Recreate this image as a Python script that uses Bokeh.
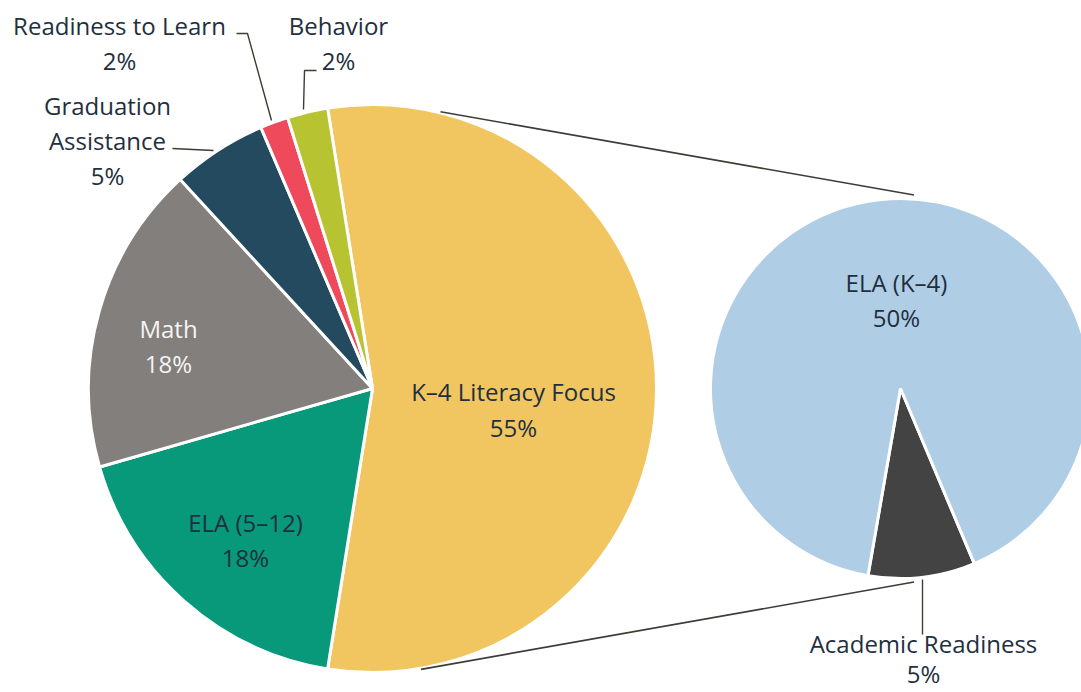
import math
from bokeh.plotting import figure
from bokeh.models import Range1d, ColumnDataSource
from bokeh.core.properties import value
from bokeh.embed import file_html
from bokeh.resources import INLINE

# ---------------- data ----------------
main_labels = ["K–4 Literacy Focus", "ELA (5–12)", "Math", "Graduation Assistance",
               "Readiness to Learn", "Behavior"]
main_values = [55.0, 18.0, 17.6, 5.4, 1.6, 2.3]
main_pct_text = ["55%", "18%", "18%", "5%", "2%", "2%"]
main_colors = ["#F1C661", "#08997B", "#827F7C", "#234A5E", "#EF4A5B", "#B8C332"]

sub_labels = ["Academic Readiness", "ELA (K–4)"]
sub_values = [5.0, 50.0]
sub_pct_text = ["5%", "50%"]
sub_colors = ["#434343", "#B0CDE6"]

# ---------------- layout ----------------
W, H = 1081, 692
MAIN_C = (372, 388)      # screen coords
MAIN_R = 284
SUB_C = (900, 388)
SUB_R = 190

TEXT = "#1F2F3E"
FONT = "Open Sans"
FS = "24px"


def sy(y):
    return H - y


def pt(center, r, theta_deg):
    # theta: clockwise from 12 o'clock, screen coords
    t = math.radians(theta_deg)
    return center[0] + r * math.sin(t), center[1] - r * math.cos(t)


p = figure(width=W, height=H, x_range=Range1d(0, W), y_range=Range1d(0, H),
           output_backend="svg", toolbar_location=None,
           x_axis_location=None, y_axis_location=None, min_border=0,
           background_fill_color="white", border_fill_color="white")
p.outline_line_color = None
p.xgrid.visible = False
p.ygrid.visible = False

# ---------------- main pie ----------------
tot = sum(main_values)
k4_span = main_values[0] / tot * 360
theta = 90 - k4_span / 2
starts, ends = [], []
for v in main_values:
    span = v / tot * 360
    starts.append(math.radians(90 - theta))
    ends.append(math.radians(90 - (theta + span)))
    theta += span
src = ColumnDataSource(dict(x=[MAIN_C[0]] * len(main_values), y=[sy(MAIN_C[1])] * len(main_values),
                            s=starts, e=ends, c=main_colors))
p.wedge(x="x", y="y", radius=MAIN_R, start_angle="s", end_angle="e", direction="clock",
        fill_color="c", line_color="white", line_width=3, source=src)

# ---------------- secondary pie ----------------
stot = sum(sub_values)
theta = 173.5 - (sub_values[0] / stot * 360) / 2
s2, e2 = [], []
for v in sub_values:
    span = v / stot * 360
    s2.append(math.radians(90 - theta))
    e2.append(math.radians(90 - (theta + span)))
    theta += span
src2 = ColumnDataSource(dict(x=[SUB_C[0]] * 2, y=[sy(SUB_C[1])] * 2, s=s2, e=e2, c=sub_colors))
p.wedge(x="x", y="y", radius=SUB_R, start_angle="s", end_angle="e", direction="clock",
        fill_color="c", line_color="white", line_width=3, source=src2)

# ---------------- connector lines ----------------
LINE_C = "#3D3D35"
a1 = pt(MAIN_C, MAIN_R + 1, 13.8)
b1 = pt(SUB_C, SUB_R + 4, 4.0)
a2 = pt(MAIN_C, MAIN_R + 1, 170.2)
b2 = pt(SUB_C, SUB_R + 4, 176.0)
p.segment(x0=[a1[0], a2[0]], y0=[sy(a1[1]), sy(a2[1])], x1=[b1[0], b2[0]], y1=[sy(b1[1]), sy(b2[1])],
          line_color=LINE_C, line_width=1.6)

# ---------------- leader lines ----------------
leaders = [
    [(236, 33), (247, 33), (271, 120)],    # Readiness to Learn
    [(316, 70), (304, 70), (303, 109)],    # Behavior
    [(172, 148), (213, 150)],              # Graduation Assistance
    [(922, 579), (922, 634)],              # Academic Readiness
]
p.multi_line(xs=[[q[0] for q in L] for L in leaders], ys=[[sy(q[1]) for q in L] for L in leaders],
             line_color=LINE_C, line_width=1.4)

# ---------------- labels ----------------
def label(lines, x, y0, color=TEXT, step=35):
    for i, s in enumerate(lines):
        p.text(x=[x], y=[sy(y0 + i * step)], text=[s], text_align="center", text_baseline="middle",
               text_font=value(FONT), text_font_size=FS, text_color=color)

label([main_labels[0], main_pct_text[0]], 513, 391, step=36)
label([main_labels[1], main_pct_text[1]], 245, 522)
label([main_labels[2], main_pct_text[2]], 168, 328, color="#F4F4F4")
label(["Graduation", "Assistance", main_pct_text[3]], 107, 105)
label([main_labels[4], main_pct_text[4]], 119, 25)
label([main_labels[5], main_pct_text[5]], 338, 25)
label([sub_labels[1], sub_pct_text[1]], 896, 282)
label([sub_labels[0]], 923, 643)
label([sub_pct_text[0]], 923, 673)

open("out.html", "w").write(file_html(p, INLINE))
